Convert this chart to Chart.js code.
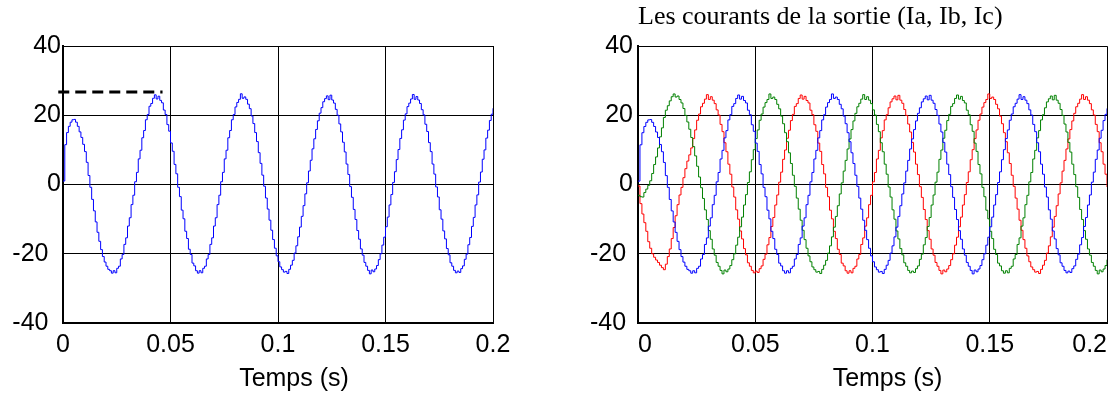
<!DOCTYPE html>
<html>
<head>
<meta charset="utf-8">
<title>Les courants de la sortie</title>
<script src="https://cdn.jsdelivr.net/npm/chart.js@4.4.1/dist/chart.umd.min.js"></script>
<style>
  html, body { margin: 0; padding: 0; background: #fff; overflow: hidden; }
  #wrap { position: relative; width: 1114px; height: 399px; }
  canvas { position: absolute; top: 0; }
  #leftChart { left: 0; }
  #rightChart { left: 557px; }
</style>
</head>
<body>
<div id="wrap">
  <canvas id="leftChart" width="557" height="399"></canvas>
  <canvas id="rightChart" width="557" height="399"></canvas>
</div>
<script>
// sampling of the simulated currents (s)
const sampleStep = 1 / 1200;

const xTicks = [0, 0.05, 0.1, 0.15, 0.2];
const yTicks = [-40, -20, 0, 20, 40];

const xLabel = "Temps (s)";
const rightTitle = "Les courants de la sortie (Ia, Ib, Ic)";

// phase currents (A), one value per sample
const Ia = [
  1.0, 11.5, 15.0, 16.8, 18.0, 18.7, 18.8, 18.0, 16.8, 15.2,
  13.6, 11.6, 9.5, 6.4, 2.6, -0.8, -4.3, -7.6, -10.8, -13.8,
  -16.4, -18.8, -20.8, -22.4, -23.6, -24.5,
  -24.9, -25.6, -24.9, -25.5, -24.2, -23.6, -21.5, -20.2, -17.3, -15.4,
  -12.0, -9.6, -5.8, -3.1, 0.8, 3.5, 7.4, 9.9, 13.5, 15.6, 18.7, 20.2,
  22.6, 23.4, 24.9, 25.9, 24.7, 25.5, 24.3, 23.6, 21.5, 20.2,
  17.3, 15.4, 12.0, 9.6, 5.8, 3.1, -0.8, -3.5, -7.4, -9.9,
  -13.5, -15.6, -18.7, -20.2, -22.7, -23.5, -24.9, -25.6, -24.9, -25.5,
  -24.2, -23.6, -21.5, -20.2, -17.3, -15.4, -12.0, -9.6, -5.8, -3.1,
  0.8, 3.5, 7.4, 9.9, 13.5, 15.6, 18.7, 20.2,
  22.4, 23.7, 24.6, 26.2, 24.9, 25.3, 24.6, 23.2, 21.9, 19.8,
  17.6, 15.0, 12.4, 9.2, 6.1, 2.7, -0.5, -3.9, -7.1, -10.3,
  -13.2, -15.9, -18.4, -20.6, -22.3, -23.8, -24.6, -25.3, -25.1, -25.7,
  -24.5, -23.3, -21.9, -19.8, -17.7, -15.1, -12.3, -9.2, -6.1, -2.7,
  0.5, 3.9, 7.0, 10.3, 13.2, 15.9, 18.4, 20.6,
  22.2, 23.9, 24.8, 25.6, 24.5, 25.8, 24.4, 23.5, 21.7, 20.0,
  17.5, 15.2, 12.2, 9.4, 5.9, 2.9, -0.6, -3.7, -7.2, -10.1,
  -13.3, -15.8, -18.6, -20.4, -22.5, -23.6, -24.8, -25.8, -24.7, -25.2,
  -24.4, -23.4, -21.7, -20.0, -17.5, -15.2, -12.2, -9.4, -5.9, -2.9,
  0.6, 3.7, 7.2, 10.1, 13.3, 15.8, 18.6, 20.4,
  22.5, 23.5, 24.7, 26.0, 24.6, 25.4, 24.4, 23.4, 21.6, 20.1,
  17.4, 15.3, 12.1, 9.5, 5.9, 3.0, -0.7, -3.6, -7.3, -10.0,
  -13.4, -15.7, -18.5, -20.3, -22.6, -23.6, -24.8, -25.5, -25.0, -25.4,
  -24.3, -23.5, -21.6, -20.1, -17.4, -15.3, -12.1, -9.5, -5.9, -3.0,
  0.7, 3.6, 7.3, 10.0, 13.4, 15.7, 18.5, 20.3,
  22.0
];

const Ib = [
  -3.1, -3.5, -3.6, -2.3, -1.3, -0.2, 1.1, 3.2, 5.8, 8.0,
  10.6, 13.8, 16.4, 19.4, 21.5, 22.8, 24.2, 25.4, 26.2, 25.3,
  25.6, 24.6, 23.6, 22.0, 20.0, 18.1, 16.0, 13.6, 11.0, 8.3,
  5.3, 2.2, -0.9, -4.0, -7.3, -10.1,
  -13.3, -15.8, -18.6, -20.4, -22.5, -23.6, -24.8, -25.8, -24.7, -25.2,
  -24.4, -23.4, -21.7, -20.0, -17.5, -15.2, -12.2, -9.4, -5.9, -2.9,
  0.6, 3.7, 7.2, 10.1, 13.3, 15.8, 18.6, 20.4,
  22.4, 23.7, 24.6, 26.2, 24.9, 25.3, 24.6, 23.2, 21.9, 19.8,
  17.6, 15.0, 12.4, 9.2, 6.1, 2.7, -0.5, -3.9, -7.1, -10.3,
  -13.2, -15.9, -18.4, -20.6, -22.3, -23.8, -24.6, -25.3, -25.1, -25.7,
  -24.5, -23.3, -21.9, -19.8, -17.7, -15.1, -12.3, -9.2, -6.1, -2.7,
  0.5, 3.9, 7.0, 10.3, 13.2, 15.9, 18.4, 20.6,
  22.5, 23.5, 24.7, 26.0, 24.6, 25.4, 24.4, 23.4, 21.6, 20.1,
  17.4, 15.3, 12.1, 9.5, 5.9, 3.0, -0.7, -3.6, -7.3, -10.0,
  -13.4, -15.7, -18.5, -20.3, -22.6, -23.6, -24.8, -25.5, -25.0, -25.4,
  -24.3, -23.5, -21.6, -20.1, -17.4, -15.3, -12.1, -9.5, -5.9, -3.0,
  0.7, 3.6, 7.3, 10.0, 13.4, 15.7, 18.5, 20.3,
  22.6, 23.4, 24.9, 25.9, 24.7, 25.5, 24.3, 23.6, 21.5, 20.2,
  17.3, 15.4, 12.0, 9.6, 5.8, 3.1, -0.8, -3.5, -7.4, -9.9,
  -13.5, -15.6, -18.7, -20.2, -22.7, -23.5, -24.9, -25.6, -24.9, -25.5,
  -24.2, -23.6, -21.5, -20.2, -17.3, -15.4, -12.0, -9.6, -5.8, -3.1,
  0.8, 3.5, 7.4, 9.9, 13.5, 15.6, 18.7, 20.2,
  22.2, 23.9, 24.8, 25.6, 24.5, 25.8, 24.4, 23.5, 21.7, 20.0,
  17.5, 15.2, 12.2, 9.4, 5.9, 2.9, -0.6, -3.7, -7.2, -10.1,
  -13.3, -15.8, -18.6, -20.4, -22.5, -23.6, -24.8, -25.8, -24.7, -25.2,
  -24.4, -23.4, -21.7
];

const Ic = [
  -0.4, -5.5, -8.5, -11.0, -13.5, -16.5, -18.4, -20.0, -21.0, -21.8,
  -22.5, -23.3, -24.0, -24.6, -23.0, -20.8, -18.6, -15.6, -12.4, -9.0,
  -5.8, -3.0, -0.8, 2.0, 4.6, 6.8, 8.6,
  10.6, 13.3, 15.8, 18.6, 20.4,
  22.5, 23.5, 24.7, 26.0, 24.6, 25.4, 24.4, 23.4, 21.6, 20.1,
  17.4, 15.3, 12.1, 9.5, 5.9, 3.0, -0.7, -3.6, -7.3, -10.0,
  -13.4, -15.7, -18.5, -20.3, -22.6, -23.6, -24.8, -25.5, -25.0, -25.4,
  -24.3, -23.5, -21.6, -20.1, -17.4, -15.3, -12.1, -9.5, -5.9, -3.0,
  0.7, 3.6, 7.3, 10.0, 13.4, 15.7, 18.5, 20.3,
  22.6, 23.4, 24.9, 25.9, 24.7, 25.5, 24.3, 23.6, 21.5, 20.2,
  17.3, 15.4, 12.0, 9.6, 5.8, 3.1, -0.8, -3.5, -7.4, -9.9,
  -13.5, -15.6, -18.7, -20.2, -22.7, -23.5, -24.9, -25.6, -24.9, -25.5,
  -24.2, -23.6, -21.5, -20.2, -17.3, -15.4, -12.0, -9.6, -5.8, -3.1,
  0.8, 3.5, 7.4, 9.9, 13.5, 15.6, 18.7, 20.2,
  22.2, 23.9, 24.8, 25.6, 24.5, 25.8, 24.4, 23.5, 21.7, 20.0,
  17.5, 15.2, 12.2, 9.4, 5.9, 2.9, -0.6, -3.7, -7.2, -10.1,
  -13.3, -15.8, -18.6, -20.4, -22.5, -23.6, -24.8, -25.8, -24.7, -25.2,
  -24.4, -23.4, -21.7, -20.0, -17.5, -15.2, -12.2, -9.4, -5.9, -2.9,
  0.6, 3.7, 7.2, 10.1, 13.3, 15.8, 18.6, 20.4,
  22.4, 23.7, 24.6, 26.2, 24.9, 25.3, 24.6, 23.2, 21.9, 19.8,
  17.6, 15.0, 12.4, 9.2, 6.1, 2.7, -0.5, -3.9, -7.1, -10.3,
  -13.2, -15.9, -18.4, -20.6, -22.3, -23.8, -24.6, -25.3, -25.1, -25.7,
  -24.5, -23.3, -21.9, -19.8, -17.7, -15.1, -12.3, -9.2, -6.1, -2.7,
  0.5, 3.9, 7.0, 10.3, 13.2, 15.9, 18.4, 20.6,
  22.5, 23.5, 24.7, 26.0, 24.6, 25.4, 24.4, 23.4, 21.6, 20.1,
  17.4, 15.3, 12.1, 9.5, 5.9, 3.0, -0.7
];

// dashed marker of the peak value on the left plot
const peakLineX = [-0.0022, 0.0463];
const peakLineY = [26.7, 26.7];

Chart.defaults.font.family = "'Liberation Sans', Arial, Helvetica, sans-serif";
Chart.defaults.font.size = 25;
Chart.defaults.color = "#000";

const toPoints = (xs, ys) => ys.map((y, i) => ({ x: xs ? xs[i] : i * sampleStep, y: y }));

// draws the x axis label a bit right of centre, like the original figure
const xLabelPlugin = {
  id: "xLabel",
  afterDraw(chart, args, opts) {
    const { ctx, chartArea } = chart;
    ctx.save();
    ctx.font = opts.font;
    ctx.fillStyle = "#000";
    ctx.textAlign = "center";
    ctx.textBaseline = "alphabetic";
    ctx.fillText(opts.text, (chartArea.left + chartArea.right) / 2 + opts.dx, opts.y);
    ctx.restore();
  }
};

function makeScales(yWidth, yPad, negPad, xAlign) {
  return {
    x: {
      type: "linear",
      min: 0,
      max: 0.2,
      afterBuildTicks: s => { s.ticks = xTicks.map(v => ({ value: v })); },
      afterFit: s => { s.height = 76; },
      grid: { color: "#000", lineWidth: 1, drawTicks: false },
      border: { color: "#000", width: 2 },
      ticks: { padding: 7, align: xAlign, maxRotation: 0, autoSkip: false, callback: v => String(v) }
    },
    y: {
      type: "linear",
      min: -40,
      max: 40,
      afterBuildTicks: s => { s.ticks = yTicks.map(v => ({ value: v })); },
      afterFit: s => { s.width = yWidth; },
      grid: { color: "#000", lineWidth: 1, drawTicks: false },
      border: { color: "#000", width: 2 },
      ticks: { padding: yPad, autoSkip: false, callback: v => v < 0 ? v + negPad : String(v) }
    }
  };
}

function lineSet(label, values, color) {
  return {
    label: label,
    data: toPoints(null, values),
    borderColor: color,
    borderWidth: 1,
    pointRadius: 0,
    stepped: true,
    fill: false
  };
}

new Chart(document.getElementById("leftChart"), {
  type: "line",
  data: {
    datasets: [
      {
        label: "Crête",
        data: toPoints(peakLineX, peakLineY),
        borderColor: "#000",
        borderWidth: 3,
        borderDash: [11, 6],
        pointRadius: 0,
        clip: false
      },
      lineSet("Ia", Ia, "#0000ff")
    ]
  },
  options: {
    responsive: false,
    animation: false,
    layout: { padding: { top: 46, right: 64, bottom: 0, left: 0 } },
    scales: makeScales(63, 2, "\u2002", "center"),
    plugins: {
      legend: { display: false },
      tooltip: { enabled: false },
      xLabel: { text: xLabel, dx: 16, y: 386, font: "25px 'Liberation Sans', Arial, sans-serif" }
    }
  },
  plugins: [xLabelPlugin]
});

new Chart(document.getElementById("rightChart"), {
  type: "line",
  data: {
    datasets: [
      lineSet("Ia", Ia, "#0000ff"),
      lineSet("Ib", Ib, "#008000"),
      lineSet("Ic", Ic, "#ff0000")
    ]
  },
  options: {
    responsive: false,
    animation: false,
    layout: { padding: { top: 0, right: 4, bottom: 0, left: 0 } },
    scales: makeScales(81, 5, " ", "inner"),
    plugins: {
      legend: { display: false },
      tooltip: { enabled: false },
      title: {
        display: true,
        text: rightTitle,
        align: "start",
        fullSize: false,
        color: "#000",
        font: { family: "'Liberation Serif', 'Times New Roman', serif", size: 26, weight: "normal" },
        padding: { top: 2, bottom: 13 }
      },
      xLabel: { text: xLabel, dx: 15, y: 386, font: "25px 'Liberation Sans', Arial, sans-serif" }
    }
  },
  plugins: [xLabelPlugin]
});
</script>
</body>
</html>
